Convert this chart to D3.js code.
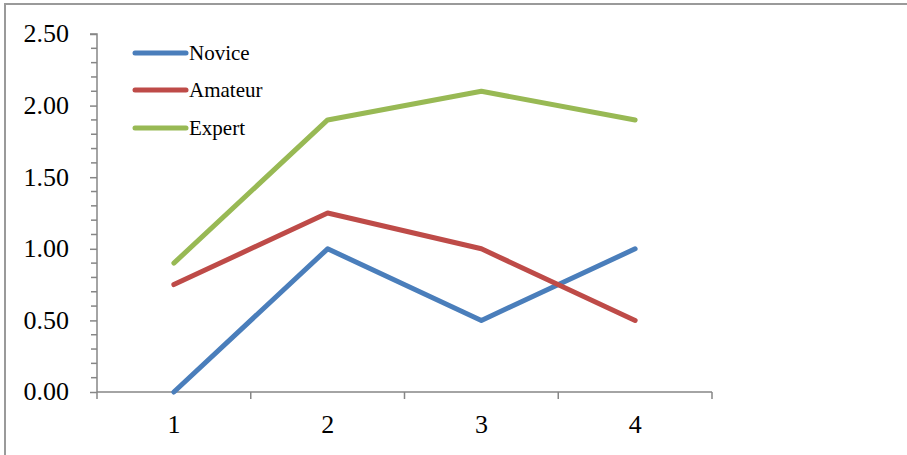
<!DOCTYPE html>
<html><head><meta charset="utf-8">
<script src="https://cdn.jsdelivr.net/npm/d3@7"></script>
<style>body{margin:0;background:#fff;}svg{display:block;} text{font-family:'Liberation Serif','Times New Roman',serif !important;}</style>
</head><body>
<script>
const categories = [1, 2, 3, 4];
const novice = [0, 1.0, 0.5, 1.0];
const amateur = [0.75, 1.25, 1.0, 0.5];
const expert = [0.9, 1.9, 2.1, 1.9];
const seriesNames = ["Novice", "Amateur", "Expert"];
const seriesColors = ["#4a7ebb", "#be4b48", "#98b954"];
const yTicks = [0, 0.5, 1.0, 1.5, 2.0, 2.5];

const W = 907, H = 455;
const svg = d3.select("body").append("svg").attr("width", W).attr("height", H);

// frame
svg.append("rect").attr("x", 5).attr("y", 4).attr("width", 910).attr("height", 460)
  .attr("fill", "none").attr("stroke", "#9a9a9a").attr("stroke-width", 2);

const pLeft = 97, pRight = 712, pTop = 34, pBottom = 392;
const x = d3.scaleBand().domain(categories).range([pLeft, pRight]);
const y = d3.scaleLinear().domain([0, 2.5]).range([pBottom, pTop]);

const axisColor = "#868686";
// y axis
const yAxis = d3.axisLeft(y).tickValues(yTicks).tickFormat(d3.format(".2f")).tickSize(7).tickPadding(20);
const gy = svg.append("g").attr("transform", `translate(${pLeft},0)`).call(yAxis);
gy.select(".domain").attr("stroke", axisColor).attr("stroke-width", 1.5).attr("d", `M-7,${pTop}H0V${pBottom}`);
gy.selectAll(".tick line").attr("stroke", axisColor).attr("stroke-width", 1.5);
gy.selectAll(".tick text").attr("font-size", 26).attr("fill", "#000").attr("dy", "0.3em").attr("x", -28);
// minor ticks
const minor = d3.range(0, 2.5001, 0.1).filter(v => Math.abs(v * 2 - Math.round(v * 2)) > 1e-6);
svg.append("g").selectAll("line").data(minor).join("line")
  .attr("x1", pLeft - 6).attr("x2", pLeft).attr("y1", d => y(d)).attr("y2", d => y(d))
  .attr("stroke", axisColor).attr("stroke-width", 1.5);

// x axis
svg.append("line").attr("x1", pLeft).attr("x2", pRight).attr("y1", pBottom).attr("y2", pBottom)
  .attr("stroke", axisColor).attr("stroke-width", 1.5);
const bounds = categories.map(c => x(c)).concat([pRight]);
svg.append("g").selectAll("line").data(bounds).join("line")
  .attr("x1", d => d).attr("x2", d => d).attr("y1", pBottom).attr("y2", pBottom + 7)
  .attr("stroke", axisColor).attr("stroke-width", 1.5);
svg.append("g").selectAll("text").data(categories).join("text")
  .attr("x", d => x(d) + x.bandwidth() / 2).attr("y", 425).attr("dy", "0.3em")
  .attr("text-anchor", "middle")
  .attr("font-size", 26).text(d => d);

// lines
const allSeries = [novice, amateur, expert];
const line = d3.line().x((d, i) => x(categories[i]) + x.bandwidth() / 2).y(d => y(d));
allSeries.forEach((s, k) => {
  svg.append("path").datum(s).attr("d", line).attr("fill", "none")
    .attr("stroke", seriesColors[k]).attr("stroke-width", 5).attr("stroke-linecap", "round").attr("stroke-linejoin", "round");
});

// legend
const legY = [53, 90, 128];
seriesNames.forEach((n, k) => {
  svg.append("line").attr("x1", 135).attr("x2", 186).attr("y1", legY[k]).attr("y2", legY[k])
    .attr("stroke", seriesColors[k]).attr("stroke-width", 5).attr("stroke-linecap", "round");
  svg.append("text").attr("x", 189).attr("y", legY[k]).attr("dy", "0.32em")
    .attr("font-size", 21).text(n);
});
</script>
</body></html>
